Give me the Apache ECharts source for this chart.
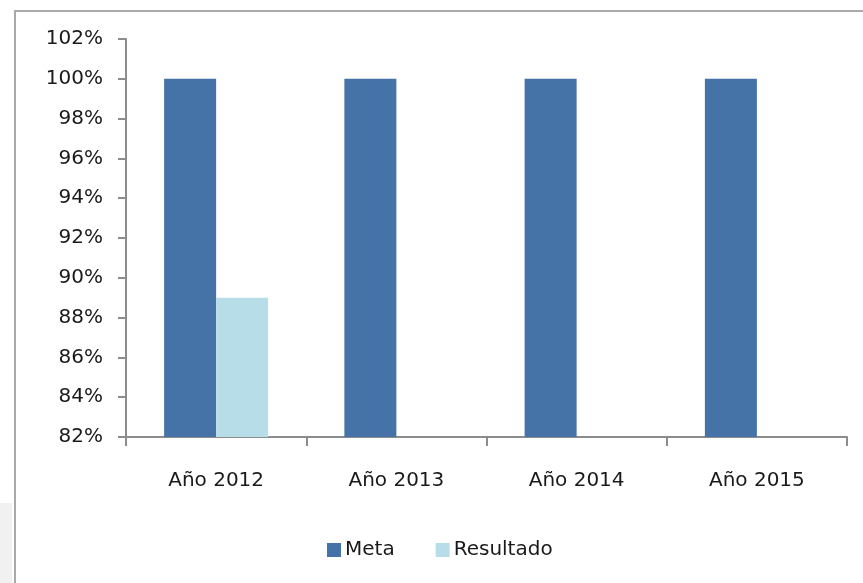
<!DOCTYPE html>
<html>
<head>
<meta charset="utf-8">
<title>Meta vs Resultado</title>
<script src="https://cdn.jsdelivr.net/npm/echarts@6/dist/echarts.min.js"></script>
<style>
  html, body { margin: 0; padding: 0; background: #fff; overflow: hidden; }
  #wrap { position: relative; width: 863px; height: 583px; overflow: hidden; }
  /* gray sliver at bottom-left and the chart frame */
  #side { position: absolute; left: 0; top: 503px; width: 12px; height: 80px; background: #f1f1f1; }
  #frame { position: absolute; left: 14px; top: 10px; width: 900px; height: 620px; border: 2px solid #a9a9a9; }
  #chart { position: absolute; left: 0; top: 0; width: 863px; height: 583px; }
</style>
</head>
<body>
<div id="wrap">
  <div id="side"></div>
  <div id="frame"></div>
  <div id="chart"></div>
</div>
<script>
  // datos
  var categories = ['Año 2012', 'Año 2013', 'Año 2014', 'Año 2015'];
  var meta = [100, 100, 100, 100];
  var resultado = [89, null, null, null];

  var axisColor = '#8c8c8c';
  var font = 'DejaVu Sans';

  var myChart = echarts.init(document.getElementById('chart'));

  var option = {
    animation: false,
    color: ['#4572a7', '#b7dde8'],
    textStyle: { fontFamily: font },
    legend: {
      data: ['Meta', 'Resultado'],
      left: 322,
      top: 535,
      itemWidth: 14,
      itemHeight: 14,
      itemGap: 41,
      icon: 'rect',
      textStyle: { fontFamily: font, fontSize: 20, color: '#1a1a1a', padding: [0, 0, 0, -1] }
    },
    grid: {
      left: 126,
      right: 16,
      top: 39,
      bottom: 146,
      containLabel: false
    },
    xAxis: {
      type: 'category',
      data: categories,
      boundaryGap: true,
      axisLine: { show: true, lineStyle: { color: axisColor, width: 2 } },
      axisTick: { show: true, length: 9, lineStyle: { color: axisColor, width: 2 } },
      axisLabel: { margin: 34, fontFamily: font, fontSize: 20, color: '#1a1a1a' }
    },
    yAxis: {
      type: 'value',
      min: 82,
      max: 102,
      interval: 2,
      axisLine: { show: true, lineStyle: { color: axisColor, width: 2 } },
      axisTick: { show: true, length: 8, lineStyle: { color: axisColor, width: 2 } },
      splitLine: { show: false },
      axisLabel: {
        margin: 23,
        fontFamily: font,
        fontSize: 20,
        color: '#1a1a1a',
        formatter: '{value}%'
      }
    },
    series: [
      {
        name: 'Meta',
        type: 'bar',
        barWidth: 52,
        barGap: '0%',
        data: meta
      },
      {
        name: 'Resultado',
        type: 'bar',
        barWidth: 52,
        barGap: '0%',
        data: resultado
      }
    ]
  };

  myChart.setOption(option);
  window.addEventListener('resize', function () { myChart.resize(); });
</script>
</body>
</html>
